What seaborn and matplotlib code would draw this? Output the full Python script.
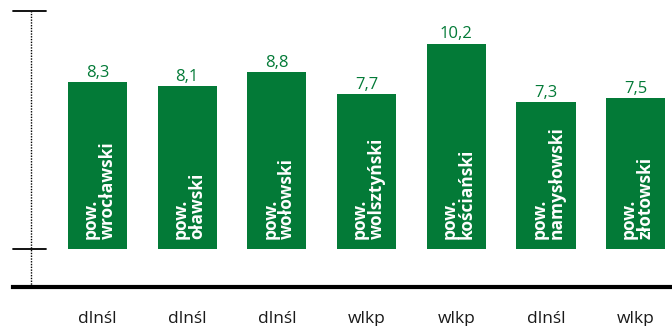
import matplotlib
matplotlib.use("Agg")
import matplotlib.pyplot as plt
import seaborn as sns
import pandas as pd

names = ["pow.\nwrocławski", "pow.\noławski", "pow.\nwołowski", "pow.\nwolsztyński",
         "pow.\nkościański", "pow.\nnamysłowski", "pow.\nzłotowski"]
regions = ["dlnśl", "dlnśl", "dlnśl", "wlkp", "wlkp", "dlnśl", "wlkp"]
values = [8.3, 8.1, 8.8, 7.7, 10.2, 7.3, 7.5]
value_labels = ["8,3", "8,1", "8,8", "7,7", "10,2", "7,3", "7,5"]

GREEN = "#037A37"

sns.set_theme(style="white")
plt.rcParams['font.family'] = ['Open Sans', 'DejaVu Sans']

df = pd.DataFrame({"name": names, "value": values})

W, H = 672, 326
fig = plt.figure(figsize=(W / 100, H / 100), dpi=100)
# axes: left 13px, right 672px, top 11px, bottom 287px
ax = fig.add_axes([13 / W, 1 - 287 / H, (672 - 13) / W, (287 - 11) / H])

sns.barplot(data=df, x="name", y="value", color=GREEN, saturation=1,
            width=0.66, ax=ax, edgecolor="none")

ax.set_xlim(-0.942, 6.405)
ax.set_ylim(-1.89, 11.84)

for i, (v, lab, nm) in enumerate(zip(values, value_labels, names)):
    ax.text(i, v + 0.08, lab, ha="center", va="bottom", color=GREEN, fontsize=12)
    ax.text(i + 0.02, 0.5, nm, ha="center", va="bottom", rotation=90, color="white",
            fontsize=12.5, fontweight="bold", multialignment="left", linespacing=0.92)

for s in ["top", "right", "left"]:
    ax.spines[s].set_visible(False)
ax.spines["bottom"].set_linewidth(3)
ax.spines["bottom"].set_color("black")

ax.set_yticks([])
ax.set_xticks(range(len(regions)))
ax.set_xticklabels(regions, fontsize=12.5, color="#1a1a1a")
ax.tick_params(axis="x", length=0, pad=17)
ax.set_xlabel("")
ax.set_ylabel("")

# dotted vertical axis and short ticks
ax.plot([-0.741, -0.741], [-1.89, 11.84], color="black", linestyle=(0, (1, 1)),
        linewidth=1, clip_on=False)
for yv in [0, 11.84]:
    ax.plot([-0.942, -0.574], [yv, yv], color="black", linewidth=1.3, clip_on=False)

fig.savefig("out.png", dpi=100)
